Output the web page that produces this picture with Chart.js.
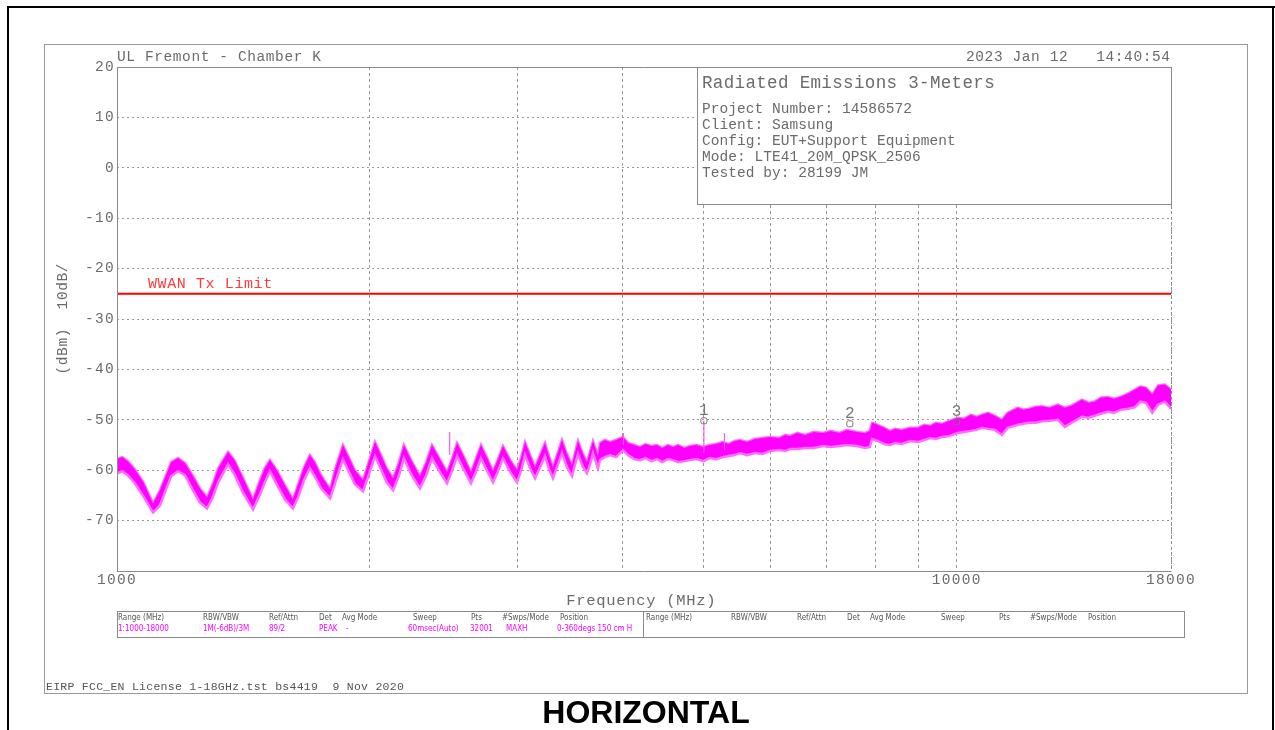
<!DOCTYPE html>
<html><head><meta charset="utf-8">
<script src="https://cdn.jsdelivr.net/npm/chart.js@4.4.1/dist/chart.umd.min.js"></script>
<style>html,body{margin:0;padding:0;background:#fff;overflow:hidden}canvas{position:absolute;left:0;top:0}</style>
</head><body><canvas id="c" width="1275" height="730"></canvas>
<script>
// ---------------- DATA ----------------
const freqMHz = [
 1000,1015,1030,1050,1075,1104,1125,1145,1160,1182,1205,1230,1255,1280,1300,1320,1356,1380,1410,1452,
 1480,1500,1521,1550,1585,1620,1645,1670,1697,1720,1750,1794,1820,1858,1890,1920,1963,1990,2029,2060,
 2095,2132,2165,2196,2240,2295,2335,2372,2420,2472,2505,2541,2590,2640,2675,2713,2760,2804,2840,2882,
 2940,2995,3030,3062,3105,3147,3190,3234,3270,3305,3345,3388,3435,3483,3510,3540,3585,3628,3660,3689,
 3739,3760,3810,3866,3930,4005,4060,4130,4196,4260,4330,4397,4460,4530,4594,4660,4740,4813,4900,4990,
 5080,5170,5268,5350,5440,5521,5630,5750,5870,5994,6150,6250,6332,6460,6600,6760,6931,7080,7250,7400,
 7609,7780,7880,7930,8000,8100,8200,8329,8450,8600,8800,8995,9150,9300,9450,9605,9800,10030,10200,10400,
 10560,10720,10900,11100,11320,11500,11830,12000,12200,12420,12640,12900,13200,13450,13700,14100,14350,14600,14850,15140,
 15400,15700,16000,16310,16550,16800,17100,17370,17700,18000
];
const traceHigh = [
 -57.8,-57.4,-58.2,-59.8,-62.4,-66.6,-64.0,-60.8,-58.4,-57.6,-58.6,-61.0,-63.6,-65.4,-62.8,-59.6,-56.4,-58.0,-61.2,-65.8,
 -62.0,-59.6,-58.0,-60.0,-63.0,-65.8,-62.6,-59.4,-57.0,-58.4,-61.0,-63.8,-59.6,-55.0,-57.6,-60.0,-62.0,-58.8,-54.4,-56.8,
 -59.6,-61.6,-58.6,-55.0,-58.0,-61.2,-58.4,-55.0,-57.6,-60.4,-57.8,-54.6,-57.4,-60.4,-57.8,-55.0,-57.6,-60.2,-58.0,-55.2,
 -58.0,-60.0,-57.4,-54.4,-57.0,-59.4,-57.0,-54.6,-57.2,-59.4,-56.8,-54.0,-56.8,-59.0,-56.6,-54.2,-56.6,-58.4,-56.2,-54.2,
 -57.2,-54.6,-54.0,-54.4,-54.0,-53.4,-54.6,-55.0,-55.4,-54.8,-55.2,-55.0,-55.6,-55.0,-55.4,-55.0,-55.6,-55.2,-55.0,-55.4,
 -55.0,-54.8,-54.4,-54.8,-54.2,-54.0,-54.4,-53.8,-53.6,-53.4,-53.6,-53.0,-53.2,-52.6,-53.0,-52.4,-52.6,-52.2,-52.6,-52.0,
 -52.4,-52.6,-52.2,-50.6,-50.8,-51.2,-51.6,-52.2,-51.8,-52.0,-51.6,-51.6,-51.0,-51.2,-50.6,-50.8,-50.2,-49.6,-49.8,-49.0,
 -49.4,-49.0,-48.6,-49.2,-50.0,-48.6,-47.6,-48.0,-47.8,-47.4,-47.3,-47.6,-47.0,-47.6,-47.2,-46.0,-46.6,-46.4,-45.6,-45.5,
 -45.8,-45.4,-44.8,-44.0,-43.4,-43.6,-45.0,-43.2,-43.0,-44.0
];
const traceLow = [
 -60.6,-60.2,-61.0,-62.6,-65.2,-68.4,-67.0,-63.6,-61.2,-60.2,-61.0,-63.8,-66.4,-67.6,-65.4,-62.4,-58.8,-60.8,-64.2,-67.8,
 -64.8,-62.4,-60.2,-62.8,-65.8,-67.6,-65.2,-62.0,-59.6,-61.2,-63.6,-65.6,-62.4,-57.8,-60.4,-62.8,-64.2,-61.4,-57.2,-59.6,
 -62.4,-64.0,-61.2,-57.6,-60.8,-63.6,-61.0,-57.6,-60.2,-62.6,-60.2,-57.2,-60.0,-62.6,-60.4,-57.6,-60.2,-62.4,-60.4,-57.6,
 -60.4,-62.4,-60.0,-57.0,-59.6,-61.6,-59.4,-57.2,-59.8,-61.6,-59.2,-56.6,-59.4,-61.2,-59.0,-56.8,-59.2,-60.6,-58.8,-56.6,
 -59.6,-58.0,-57.4,-57.0,-57.4,-56.0,-57.0,-57.8,-58.0,-57.6,-58.2,-57.8,-58.4,-57.8,-58.0,-58.4,-58.2,-58.0,-57.8,-58.2,
 -57.6,-57.8,-57.4,-57.2,-57.0,-56.6,-57.0,-56.6,-56.8,-56.2,-56.0,-56.2,-55.8,-55.8,-55.6,-55.6,-55.2,-55.4,-55.2,-55.0,
 -55.2,-55.6,-55.4,-53.8,-54.0,-54.4,-54.8,-55.0,-54.6,-54.8,-54.2,-54.4,-54.0,-53.6,-53.8,-53.4,-53.2,-52.6,-52.4,-52.2,
 -52.0,-51.6,-51.8,-52.0,-53.0,-51.6,-51.0,-50.8,-50.6,-50.6,-50.3,-50.2,-50.0,-51.4,-50.6,-49.4,-49.6,-49.2,-48.8,-48.4,
 -48.6,-48.0,-47.8,-47.5,-46.4,-46.6,-48.6,-47.0,-46.4,-47.8
];
const spikeFreq = [2490, 4010, 5000, 5290];
const spikeTop  = [-52.4, -52.6, -50.2, -52.6];
const spikeBase = [-57.0, -55.0, -56.6, -56.0];
const limitFreq  = [1000, 18000];
const limitLevel = [-25, -25];
const markerFreq  = [5000, 7460, 10000];
const markerLevel = [-50.2, -50.8, -50.4];
const markerNames = ['1', '2', '3'];
const yTickValues = [20, 10, 0, -10, -20, -30, -40, -50, -60, -70];
const xGridTicks  = [1000, 2000, 3000, 4000, 5000, 6000, 7000, 8000, 9000, 10000, 18000];
const xTickLabels = [1000, 10000, 18000];

// ---------------- BUILD ----------------
const pts = (xs, ys) => xs.map((x, i) => ({x: x, y: ys[i]}));
const spikePts = [];
spikeFreq.forEach((f, i) => { spikePts.push({x: f, y: spikeBase[i]}, {x: f, y: spikeTop[i]}, {x: f, y: null}); });

const GRAY = '#6b6b6b';
function txt(ctx, s, x, y, size, adv, color, align) {
  ctx.save();
  ctx.font = size + 'px "Liberation Mono"';
  const ls = adv - 0.6 * size;
  ctx.letterSpacing = ls.toFixed(2) + 'px';
  ctx.fillStyle = color;
  ctx.textAlign = 'left';
  ctx.textBaseline = 'alphabetic';
  const w = s.length * adv - ls;
  let sx = x;
  if (align === 'right') sx = x - w;
  else if (align === 'center') sx = x - w / 2;
  ctx.fillText(s, sx, y);
  ctx.restore();
}

const decor = {
  id: 'decor',
  beforeDraw(chart) {
    const ctx = chart.ctx;
    ctx.save();
    ctx.fillStyle = '#fff';
    ctx.fillRect(0, 0, chart.width, chart.height);
    ctx.restore();
    ctx.letterSpacing = '1.3px';
  },
  afterDraw(chart) {
    const ctx = chart.ctx;
    const a = chart.chartArea;
    const xs = chart.scales.x, ys = chart.scales.y;
    ctx.save();
    // outer black cell border
    ctx.strokeStyle = '#000'; ctx.lineWidth = 2;
    ctx.beginPath();
    ctx.moveTo(8, 730); ctx.lineTo(8, 7); ctx.lineTo(1275, 7);
    ctx.moveTo(1273, 7); ctx.lineTo(1273, 730);
    ctx.stroke();
    // inner gray frame
    ctx.strokeStyle = '#9a9a9a'; ctx.lineWidth = 1;
    ctx.strokeRect(44.5, 44.5, 1203, 649);
    // plot frame
    ctx.strokeStyle = '#8a8a8a';
    ctx.beginPath();
    ctx.moveTo(a.left + 0.5, a.top + 0.5); ctx.lineTo(a.left + 0.5, a.bottom + 0.5); ctx.lineTo(a.right + 0.5, a.bottom + 0.5);
    ctx.moveTo(a.left + 0.5, a.top + 0.5); ctx.lineTo(a.right + 0.5, a.top + 0.5);
    ctx.stroke();
    ctx.setLineDash([2, 3]);
    ctx.beginPath(); ctx.moveTo(a.right + 0.5, a.top); ctx.lineTo(a.right + 0.5, a.bottom); ctx.stroke();
    ctx.setLineDash([]);
    // info box
    ctx.fillStyle = '#fff';
    ctx.fillRect(697.5, a.top + 0.5, a.right - 697, 137);
    ctx.strokeStyle = '#8a8a8a';
    ctx.strokeRect(697.5, a.top + 0.5, a.right - 697, 137);
    ctx.restore();

    txt(ctx, 'UL Fremont - Chamber K', 117, 61, 14.5, 9.3, GRAY, 'left');
    txt(ctx, '2023 Jan 12   14:40:54', 1170, 61, 14.5, 9.3, GRAY, 'right');
    txt(ctx, 'Radiated Emissions 3-Meters', 702, 88, 17.5, 10.85, GRAY, 'left');
    const info = ['Project Number: 14586572', 'Client: Samsung', 'Config: EUT+Support Equipment', 'Mode: LTE41_20M_QPSK_2506', 'Tested by: 28199 JM'];
    info.forEach((s, i) => txt(ctx, s, 702, 113 + i * 16, 14.5, 8.75, GRAY, 'left'));

    // limit label
    const ly = ys.getPixelForValue(limitLevel[0]);
    txt(ctx, 'WWAN Tx Limit', xs.getPixelForValue(limitFreq[0]) + 31, ly - 6, 15, 9.6, '#ff3b3b', 'left');

    // marker labels
    markerFreq.forEach((f, i) => {
      const px = xs.getPixelForValue(f), py = ys.getPixelForValue(markerLevel[i]);
      txt(ctx, markerNames[i], px, py - 6, 16, 10, '#777', 'center');
    });

    // y axis title
    ctx.save();
    ctx.translate(62, 319);
    ctx.rotate(-Math.PI / 2);
    txt(ctx, '(dBm)  10dB/', 0, 5, 14.5, 9.3, GRAY, 'center');
    ctx.restore();

    txt(ctx, 'Frequency (MHz)', 641, 605, 15.5, 10, GRAY, 'center');

    // settings table
    ctx.save();
    ctx.strokeStyle = '#8a8a8a'; ctx.lineWidth = 1;
    ctx.strokeRect(117.5, 611.5, 1067, 26);
    ctx.beginPath(); ctx.moveTo(643.5, 611.5); ctx.lineTo(643.5, 637.5); ctx.stroke();
    ctx.font = '8px "DejaVu Sans Condensed", "DejaVu Sans"';
    ctx.letterSpacing = '0px';
    ctx.textBaseline = 'alphabetic';
    const hdr = [['Range (MHz)', 0], ['RBW/VBW', 85], ['Ref/Attn', 151], ['Det', 201], ['Avg Mode', 224], ['Sweep', 295], ['Pts', 353], ['#Swps/Mode', 384], ['Position', 442]];
    ctx.fillStyle = '#555';
    hdr.forEach(h => { ctx.fillText(h[0], 118 + h[1], 620); ctx.fillText(h[0], 646 + h[1], 620); });
    const vals = [['1:1000-18000', 118], ['1M(-6dB)/3M', 203], ['89/2', 269], ['PEAK', 319], ['-', 346], ['60msec(Auto)', 408], ['32001', 470], ['MAXH', 506], ['0-360degs 150 cm H', 557]];
    ctx.fillStyle = '#ff00ff';
    vals.forEach(v => ctx.fillText(v[0], v[1], 631));
    ctx.restore();

    txt(ctx, 'EIRP FCC_EN License 1-18GHz.tst bs4419  9 Nov 2020', 46, 690, 11.5, 7.16, '#555', 'left');

    ctx.save();
    ctx.letterSpacing = '0px';
    ctx.font = 'bold 32px "Liberation Sans"';
    ctx.fillStyle = '#000';
    ctx.textAlign = 'center';
    ctx.fillText('HORIZONTAL', 646, 723);
    ctx.restore();
  }
};

new Chart(document.getElementById('c'), {
  type: 'line',
  data: {
    datasets: [
      { label: 'high', data: pts(freqMHz, traceHigh), borderColor: '#ff6cff', borderWidth: 2.5, pointRadius: 0, fill: false, order: 4, tension: 0 },
      { label: 'low', data: pts(freqMHz, traceLow), borderColor: '#ff6cff', borderWidth: 2.5, pointRadius: 0, fill: '-1', backgroundColor: '#ff00ff', order: 3, tension: 0 },
      { label: 'spikes', data: spikePts, borderColor: '#ff55ff', borderWidth: 1.2, pointRadius: 0, spanGaps: false, fill: false, order: 2 },
      { label: 'limit', data: pts(limitFreq, limitLevel), borderColor: '#ff0000', borderWidth: 2, pointRadius: 0, fill: false, order: 1 },
      { label: 'markers', data: pts(markerFreq, markerLevel), showLine: false, pointStyle: 'rectRounded', pointRadius: 3.5, borderColor: '#777', backgroundColor: 'rgba(255,255,255,0)', borderWidth: 1, order: 0 }
    ]
  },
  options: {
    responsive: false,
    animation: false,
    devicePixelRatio: 1,
    events: [],
    layout: { padding: { left: 0, top: 67, right: 104, bottom: 119 } },
    plugins: { legend: { display: false }, tooltip: { enabled: false }, title: { display: false } },
    scales: {
      x: {
        type: 'logarithmic', min: 1000, max: 18000,
        afterBuildTicks: s => { s.ticks = xGridTicks.map(v => ({ value: v })); },
        afterFit: s => { s.height = 40; },
        ticks: { autoSkip: false, maxRotation: 0, minRotation: 0, padding: 0, color: GRAY,
                 font: { family: 'Liberation Mono', size: 14.5 },
                 callback: v => xTickLabels.includes(v) ? String(v) : '' },
        grid: { color: '#9a9a9a', lineWidth: 1, drawTicks: false },
        border: { display: false, dash: [3, 3] }
      },
      y: {
        type: 'linear', min: -80, max: 20,
        afterBuildTicks: s => { s.ticks = yTickValues.concat([-80]).map(v => ({ value: v })); },
        afterFit: s => { s.width = 117; },
        ticks: { padding: 2, color: GRAY, font: { family: 'Liberation Mono', size: 14.5 },
                 callback: v => yTickValues.includes(v) ? String(v) : '' },
        grid: { color: '#9a9a9a', lineWidth: 1, drawTicks: false },
        border: { display: false, dash: [2, 3] }
      }
    }
  },
  plugins: [decor]
});
</script>
</body></html>
